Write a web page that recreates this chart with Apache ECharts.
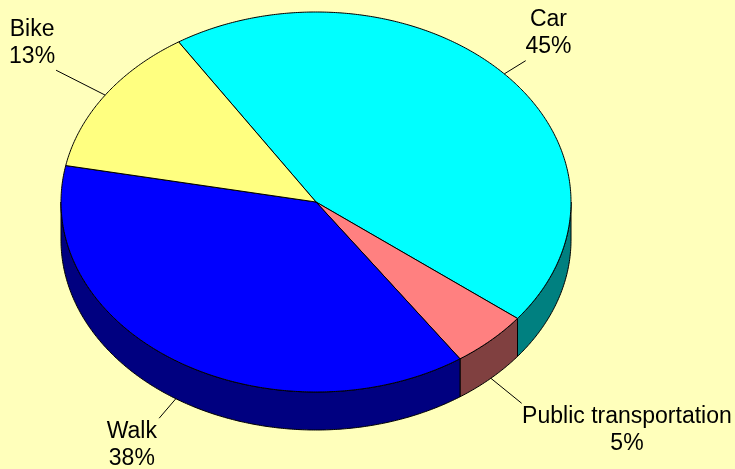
<!DOCTYPE html>
<html>
<head>
<meta charset="utf-8">
<script src="https://cdn.jsdelivr.net/npm/echarts@6/dist/echarts.min.js"></script>
<style>
  html, body { margin: 0; padding: 0; background: #FFFFBB; }
  #chart { width: 735px; height: 469px; }
</style>
</head>
<body>
<div id="chart"></div>
<script>
// Mode of travel shares (percent), drawn clockwise
const categories = ['Car', 'Public transportation', 'Walk', 'Bike'];
const shares = [45, 5, 38, 13];

// Face and wall colours of each slice
const topColors = ['#00FFFF', '#FF8080', '#0000FF', '#FFFF80'];
const sideColors = ['#008080', '#804040', '#000080', '#808040'];

// Tilted-disc geometry
const disc = { cx: 316, cy: 202, rx: 255, ry: 190, depth: 38, startAngle: -32.6 };

// Leader line offsets (from the rim anchor) and text offsets (from the line end)
const labelLayout = [
  { line: [21.4, -13.2], text: [22.8, -27.7] },
  { line: [30.8, 25.0], text: [105.3, 26.7] },
  { line: [-16.7, 19.5], text: [-27.3, 26.7] },
  { line: [-49.1, -24.9], text: [-24.0, -26.8] }
];

const total = shares.reduce((a, b) => a + b, 0);
const DEG = Math.PI / 180;

function rimPoint(angle, drop) {
  return [
    disc.cx + disc.rx * Math.sin(angle * DEG),
    disc.cy - disc.ry * Math.cos(angle * DEG) + drop
  ];
}

function arc(a0, a1, drop) {
  const pts = [];
  const n = Math.max(2, Math.ceil(Math.abs(a1 - a0) / 0.5));
  for (let k = 0; k <= n; k++) {
    pts.push(rimPoint(a0 + (a1 - a0) * k / n, drop));
  }
  return pts;
}

function sliceAngles(i) {
  let before = 0;
  for (let j = 0; j < i; j++) before += shares[j];
  const a0 = disc.startAngle + before / total * 360;
  const a1 = a0 + shares[i] / total * 360;
  return [a0, a1];
}

// Front half of the wall faces the viewer: angles 90..270 (mod 360)
function visibleWall(a0, a1) {
  const spans = [];
  for (const shift of [-360, 0, 360]) {
    const s = Math.max(a0, 90 + shift);
    const e = Math.min(a1, 270 + shift);
    if (e > s) spans.push([s, e]);
  }
  return spans;
}

function renderItem(params, api) {
  const i = params.dataIndex;
  const [a0, a1] = sliceAngles(i);
  const children = [];

  // Outer wall
  visibleWall(a0, a1).forEach(([s, e]) => {
    const top = arc(s, e, 0);
    const bottom = arc(s, e, disc.depth).reverse();
    children.push({
      type: 'polygon',
      z2: 1,
      shape: { points: top.concat(bottom) },
      style: { fill: sideColors[i], stroke: '#000', lineWidth: 1 }
    });
  });

  // Top face
  children.push({
    type: 'polygon',
    z2: 2,
    shape: { points: [[disc.cx, disc.cy]].concat(arc(a0, a1, 0)) },
    style: { fill: topColors[i], stroke: '#000', lineWidth: 1, lineJoin: 'round' }
  });

  // Label with leader line
  const mid = (a0 + a1) / 2;
  const m = ((mid % 360) + 360) % 360;
  const anchor = rimPoint(mid, (m > 90 && m < 270) ? disc.depth : 0);
  const lay = labelLayout[i];
  const end = [anchor[0] + lay.line[0], anchor[1] + lay.line[1]];
  children.push({
    type: 'line',
    z2: 3,
    shape: { x1: anchor[0], y1: anchor[1], x2: end[0], y2: end[1] },
    style: { stroke: '#000', lineWidth: 1 }
  });
  const pct = Math.round(shares[i] / total * 100);
  children.push({
    type: 'text',
    z2: 3,
    style: {
      text: categories[i] + '\n' + pct + '%',
      x: end[0] + lay.text[0],
      y: end[1] + lay.text[1],
      align: 'center',
      verticalAlign: 'middle',
      fontFamily: '"Liberation Sans", Arial, sans-serif',
      fontSize: 23,
      lineHeight: 27,
      fill: '#000'
    }
  });

  return { type: 'group', children };
}

const chart = echarts.init(document.getElementById('chart'), null, { renderer: 'canvas' });
chart.setOption({
  backgroundColor: '#FFFFBB',
  animation: false,
  series: [{
    type: 'custom',
    coordinateSystem: 'none',
    silent: true,
    renderItem,
    data: shares.map((v, i) => ({ name: categories[i], value: v }))
  }]
});
</script>
</body>
</html>
